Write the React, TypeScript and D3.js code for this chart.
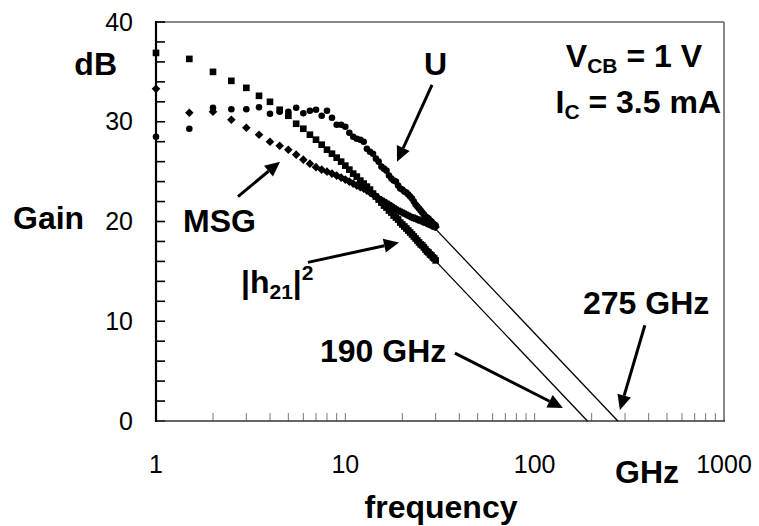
import React from "react";
import * as d3 from "d3";

const W = 759;
const H = 526;

const freqs = [1, 1.5, 2, 2.5, 3, 3.5, 4, 4.5, 5, 5.5, 6, 6.5, 7, 7.5, 8, 8.5, 9, 9.5, 10, 10.5, 11, 11.5, 12, 12.5, 13, 13.5, 14, 14.5, 15, 15.5, 16, 16.5, 17, 17.5, 18, 18.5, 19, 19.5, 20, 20.5, 21, 21.5, 22, 22.5, 23, 23.5, 24, 24.5, 25, 25.5, 26, 26.5, 27, 27.5, 28, 28.5, 29, 29.5, 30];

const h21 = [36.9, 36.3, 35.0, 34.1, 33.4, 32.6, 32.0, 31.2, 30.6, 29.8, 29.3, 28.7, 28.2, 27.7, 27.2, 26.8, 26.4, 26.0, 25.6, 25.2, 24.8, 24.5, 24.1, 23.8, 23.5, 23.2, 22.8, 22.5, 22.2, 21.9, 21.6, 21.4, 21.1, 20.9, 20.6, 20.4, 20.2, 19.9, 19.7, 19.5, 19.3, 19.1, 18.9, 18.7, 18.5, 18.3, 18.1, 17.9, 17.7, 17.6, 17.4, 17.2, 17.0, 16.9, 16.7, 16.6, 16.4, 16.3, 16.1];

const msg = [33.3, 30.9, 31.0, 30.2, 29.4, 28.7, 28.0, 27.6, 27.2, 26.7, 26.2, 25.8, 25.45, 25.2, 25.0, 24.8, 24.6, 24.4, 24.2, 24.0, 23.8, 23.6, 23.45, 23.3, 23.1, 22.9, 22.7, 22.5, 22.3, 22.15, 22.0, 21.85, 21.7, 21.55, 21.4, 21.25, 21.1, 21.0, 20.9, 20.8, 20.7, 20.6, 20.5, 20.4, 20.35, 20.3, 20.2, 20.15, 20.1, 20.0, 19.95, 19.9, 19.8, 19.75, 19.7, 19.6, 19.55, 19.5, 19.45];

const uGain = [28.5, 29.3, 31.4, 31.25, 31.25, 31.45, 30.8, 31.0, 31.0, 31.4, 30.85, 31.1, 31.2, 30.6, 31.1, 30.4, 29.7, 29.7, 29.5, 28.9, 28.5, 28.3, 28.2, 28.0, 27.3, 27.0, 26.8, 26.3, 26.0, 25.5, 25.3, 25.1, 24.6, 24.3, 24.1, 24.0, 23.6, 23.3, 23.2, 23.0, 22.9, 22.7, 22.5, 22.3, 22.0, 21.7, 21.5, 21.3, 21.1, 20.9, 20.7, 20.5, 20.4, 20.3, 20.1, 20.0, 19.8, 19.7, 19.6];

const xTickLabels = [1, 10, 100, 1000];
const yTickLabels = [0, 10, 20, 30, 40];

// extrapolated -20 dB/decade lines: [start freq, intercept freq]
const ftLine = [29, 190];
const fmaxLine = [29, 275];

// arrows in data coordinates: [fromFreq, fromGain, toFreq, toGain]
const arrows = [
  [28.7, 33.7, 18.75, 26.0],
  [2.71, 22.5, 4.52, 26.0],
  [6.35, 15.9, 19.2, 17.9],
  [37.9, 6.8, 141, 1.3],
  [382, 9.6, 282, 1.1],
];

const FONT = "'Liberation Sans', Arial, Helvetica, sans-serif";

export default function App() {
  const x = d3.scaleLog().domain([1, 1000]).range([156, 724]);
  const y = d3.scaleLinear().domain([0, 40]).range([421, 22]);

  const minorX: number[] = [];
  [1, 10, 100].forEach((d) => {
    for (let k = 2; k <= 9; k++) minorX.push(d * k);
  });
  minorX.push(10, 100);
  const yTicks = d3.range(0, 41, 2);

  const extLine = (ff: number[]) => {
    const [f0, f1] = ff;
    const g0 = 20 * Math.log10(f1 / f0);
    return d3.line()([
      [x(f0), y(g0)],
      [x(f1), y(0)],
    ]) as string;
  };

  const arrow = (a: number[], i: number) => {
    const x1 = x(a[0]), y1 = y(a[1]), x2 = x(a[2]), y2 = y(a[3]);
    const ang = Math.atan2(y2 - y1, x2 - x1);
    const L = 15, Wd = 7;
    const bx = x2 - L * Math.cos(ang), by = y2 - L * Math.sin(ang);
    const px = -Math.sin(ang) * Wd, py = Math.cos(ang) * Wd;
    return (
      <g key={i}>
        <line x1={x1} y1={y1} x2={bx} y2={by} stroke="#000" strokeWidth={3} />
        <path d={`M${x2},${y2}L${bx + px},${by + py}L${bx - px},${by - py}Z`} fill="#000" />
      </g>
    );
  };

  const sq = d3.symbol().type(d3.symbolSquare).size(44)() as string;
  const circ = d3.symbol().type(d3.symbolCircle).size(34)() as string;
  const dia = "M0,-4.3L4.3,0L0,4.3L-4.3,0Z";

  const bold = { fontFamily: FONT, fontWeight: 700, fontSize: 32, fill: "#000" } as const;

  return (
    <svg width={W} height={H} style={{ position: "absolute", left: 0, top: 0, background: "#fff" }}>
      <rect width={W} height={H} fill="#fff" />
      {/* frame */}
      <line x1={156} y1={22} x2={724} y2={22} stroke="#888" strokeWidth={2} />
      <line x1={724} y1={22} x2={724} y2={421} stroke="#888" strokeWidth={2} />
      {/* x minor ticks */}
      {minorX.map((d, i) => (
        <line key={i} x1={x(d)} x2={x(d)} y1={421} y2={413} stroke="#777" strokeWidth={1} />
      ))}
      {/* y ticks */}
      {yTicks.map((d) => (
        <line key={d} x1={156} x2={165} y1={y(d)} y2={y(d)} stroke="#000" strokeWidth={1.6} />
      ))}
      <line x1={156} y1={421} x2={725} y2={421} stroke="#333" strokeWidth={1.6} />
      <line x1={156} y1={21} x2={156} y2={422} stroke="#000" strokeWidth={2.2} />

      {/* tick labels */}
      {yTickLabels.map((d) => (
        <text key={d} x={133} y={y(d) + 8.5} textAnchor="end" fontFamily={FONT} fontSize={25}>
          {d}
        </text>
      ))}
      {xTickLabels.map((d) => (
        <text key={d} x={x(d)} y={473} textAnchor="middle" fontFamily={FONT} fontSize={25}>
          {d}
        </text>
      ))}

      {/* extrapolation lines */}
      <path d={extLine(ftLine)} stroke="#000" strokeWidth={1.3} fill="none" />
      <path d={extLine(fmaxLine)} stroke="#000" strokeWidth={1.3} fill="none" />

      {/* data */}
      {freqs.map((f, i) => (
        <path key={"m" + i} d={dia} transform={`translate(${x(f)},${y(msg[i])})`} fill="#000" />
      ))}
      {freqs.map((f, i) => (
        <path key={"h" + i} d={sq} transform={`translate(${x(f)},${y(h21[i])})`} fill="#000" />
      ))}
      {freqs.map((f, i) => (
        <path key={"u" + i} d={circ} transform={`translate(${x(f)},${y(uGain[i])})`} fill="#000" />
      ))}

      {/* arrows */}
      {arrows.map(arrow)}

      {/* labels */}
      <text x={117} y={75} textAnchor="end" {...bold}>dB</text>
      <text x={13} y={229} {...bold}>Gain</text>
      <text x={183} y={232} {...bold}>MSG</text>
      <text x={424} y={75} {...bold}>U</text>
      <text x={320} y={362} {...bold}>190 GHz</text>
      <text x={583} y={314} {...bold}>275 GHz</text>
      <text x={615} y={483} {...bold}>GHz</text>
      <text x={441} y={518} textAnchor="middle" {...bold}>frequency</text>
      <text x={241} y={293} {...bold} style={{ whiteSpace: "pre" }}>
        |h<tspan fontSize={21} dy={6}>21</tspan><tspan dy={-6}>|</tspan><tspan fontSize={21} dy={-13}>2</tspan>
      </text>
      <text x={702} y={67} textAnchor="end" {...bold} style={{ whiteSpace: "pre" }}>
        V<tspan fontSize={21} dy={6}>CB</tspan><tspan dy={-6}> = 1 V</tspan>
      </text>
      <text x={721} y={113} textAnchor="end" {...bold} style={{ whiteSpace: "pre" }}>
        I<tspan fontSize={21} dy={6}>C</tspan><tspan dy={-6}> = 3.5 mA</tspan>
      </text>
    </svg>
  );
}
